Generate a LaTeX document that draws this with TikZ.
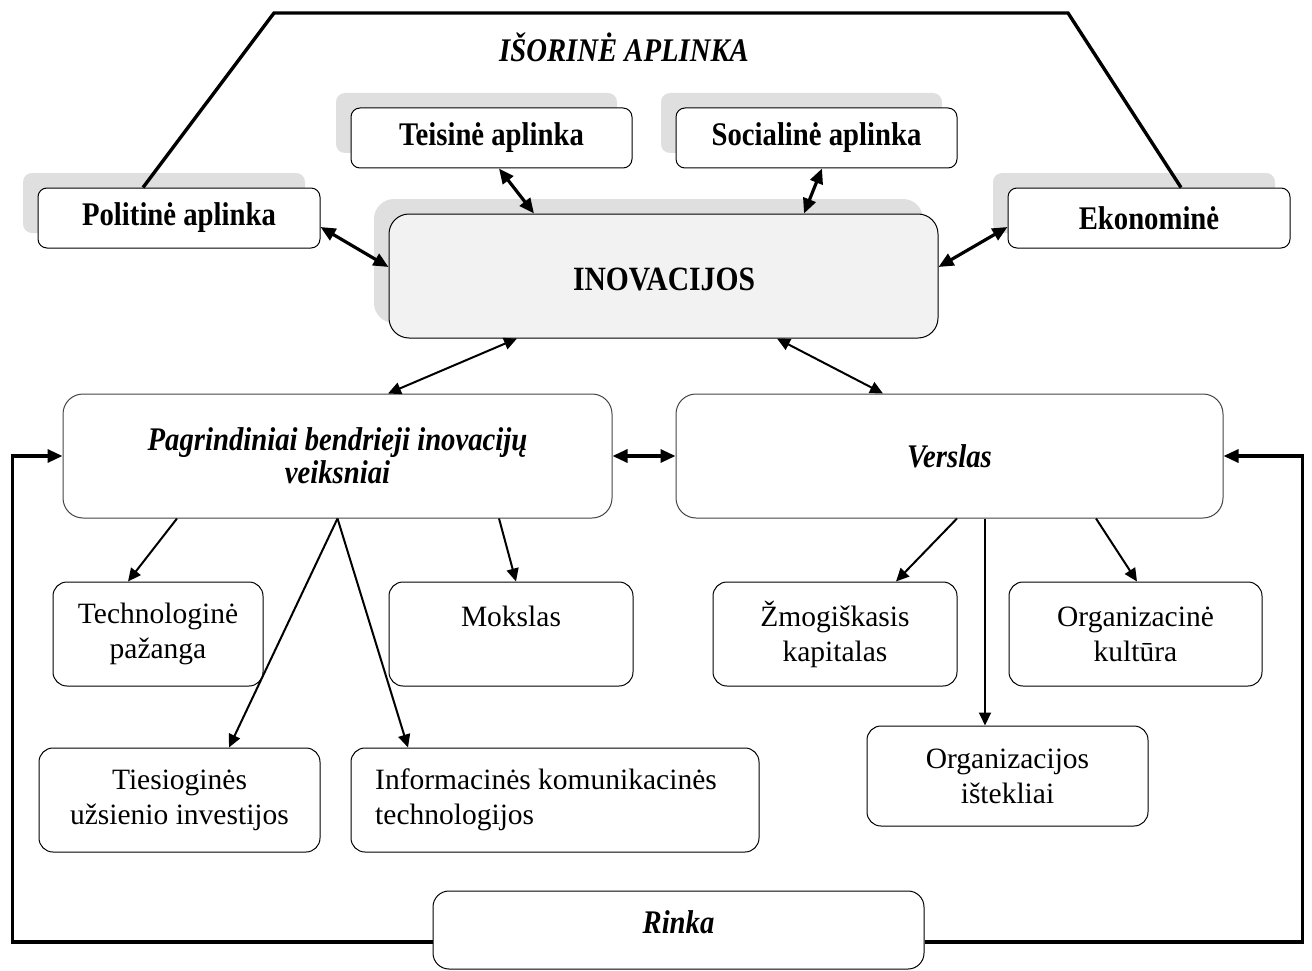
\documentclass[tikz,border=0pt]{standalone}
\usepackage{fontspec}
\setmainfont{Liberation Serif}
\newfontfamily\condfont[FakeStretch=0.87]{Liberation Serif}
\usetikzlibrary{arrows.meta,shadows,calc}
\definecolor{shadowgray}{HTML}{DFDFDF}
\definecolor{inovfill}{HTML}{F2F2F2}
\definecolor{bordergray}{HTML}{444444}
\begin{document}
\begin{tikzpicture}[x=1pt,y=-1pt,
  base/.style={draw=black,line width=1pt,fill=white,inner sep=0pt},
  envbox/.style={base,rounded corners=9pt,minimum height=60pt,
     drop shadow={shadow xshift=-15pt,shadow yshift=15pt,fill=shadowgray,opacity=1}},
  bigbox/.style={base,rounded corners=20pt,minimum height=124pt},
  subbox/.style={base,rounded corners=14pt,minimum height=104pt},
  txt/.style={inner sep=0pt,align=center,font=\fontsize{29.5}{35}\selectfont},
  btxt/.style={inner sep=0pt,align=center,font=\fontsize{33}{33}\condfont\bfseries},
  bitxt/.style={inner sep=0pt,align=center,font=\fontsize{33}{33}\condfont\bfseries\itshape},
  thick2/.style={line width=3.2pt,{Triangle[length=15pt,width=13pt]}-{Triangle[length=15pt,width=13pt]}},
  thin2/.style={line width=2pt,{Triangle[length=13pt,width=12pt]}-{Triangle[length=13pt,width=12pt]}},
  thin1/.style={line width=2pt,-{Triangle[length=13pt,width=12pt]}},
  loopline/.style={line width=3.2pt,-{Triangle[length=15pt,width=13pt]}},
  frame/.style={line width=3.4pt,line join=miter}
]
\useasboundingbox (0,0) rectangle (1312,971);

% outer frame (external environment)
\coordinate (tl) at (274,13);
\coordinate (tr) at (1068,13);

% environment boxes
\node[envbox,minimum width=282pt] (pol) at (179,218) {};
\node[envbox,minimum width=281pt] (teis) at (491.5,138) {};
\node[envbox,minimum width=281pt] (soc) at (816.5,138) {};
\node[envbox,minimum width=282pt] (eko) at (1149,218) {};
\node[bigbox,fill=inovfill,minimum width=549pt,
     drop shadow={shadow xshift=-15pt,shadow yshift=15pt,fill=shadowgray,opacity=1}] (inov) at (663.5,276) {};

\draw[frame] ([xshift=-36pt]pol.north) -- (tl) -- (tr) -- ([xshift=32pt]eko.north);

\node[bitxt] (title) at (624,47) {IŠORINĖ APLINKA};
\node[btxt] (polT) at (pol.center) {Politinė aplinka};
\node[btxt] (teisT) at (teis.center) {Teisinė aplinka};
\node[btxt] (socT) at (soc.center) {Socialinė aplinka};
\node[btxt] (ekoT) at (eko.center) {Ekonominė};
\node[btxt,font=\fontsize{34}{34}\condfont\bfseries] (inovT) at (664,279) {INOVACIJOS};

% main factor boxes
\node[bigbox,draw=bordergray,minimum width=549pt] (pag) at (337.5,456) {};
\node[bigbox,draw=bordergray,minimum width=547pt] (ver) at (949.5,456) {};
\node[bitxt] (pagT) at (pag.center) {Pagrindiniai bendrieji inovacijų\\veiksniai};
\node[bitxt] (verT) at (ver.center) {Verslas};

% sub boxes
\node[subbox,minimum width=210pt] (tech) at (158,634) {};
\node[subbox,minimum width=244pt] (moks) at (511,634) {};
\node[subbox,minimum width=281pt] (ties) at (179.5,800) {};
\node[subbox,minimum width=408pt] (info) at (555,800) {};
\node[subbox,minimum width=244pt] (zmog) at (835,634) {};
\node[subbox,minimum width=253pt] (orgk) at (1135.5,634) {};
\node[subbox,minimum width=281pt,minimum height=100pt] (orgi) at (1007.5,776) {};
\node[base,rounded corners=16pt,minimum width=491pt,minimum height=78pt] (rinka) at (678.5,930) {};

\node[txt] (techT) at (tech.center) {Technologinė\\pažanga};
\node[txt] (moksT) at (511,616) {Mokslas};
\node[txt] (tiesT) at (ties.center) {Tiesioginės\\užsienio investijos};
\node[txt,align=left,anchor=west] (infoT) at (375,800) {Informacinės komunikacinės\\technologijos};
\node[txt] (zmogT) at (zmog.center) {Žmogiškasis\\kapitalas};
\node[txt] (orgkT) at (orgk.center) {Organizacinė\\kultūra};
\node[txt] (orgiT) at (orgi.center) {Organizacijos\\ištekliai};
\node[bitxt] (rinkaT) at (678.5,922) {Rinka};

% thick double arrows to INOVACIJOS
\draw[thick2] ([yshift=-9pt]pol.east) -- ([yshift=9pt]inov.west);
\draw[thick2] ([xshift=7.5pt]teis.south) -- ([xshift=-129.5pt]inov.north);
\draw[thick2] ([xshift=5.5pt]soc.south) -- ([xshift=140.5pt]inov.north);
\draw[thick2] ([yshift=-9pt]eko.west) -- ([yshift=9pt]inov.east);

% thin double arrows
\draw[thin2] ([xshift=-146.5pt]inov.south) -- ([xshift=50.5pt]pag.north);
\draw[thin2] ([xshift=113.5pt]inov.south) -- ([xshift=-66.5pt]ver.north);
\draw[thick2] (pag.east) -- (ver.west);

% sub arrows
\draw[thin1] ([xshift=-160.5pt]pag.south) -- ([xshift=-30pt]tech.north);
\draw[thin1] (pag.south) -- ([xshift=49.5pt]ties.north);
\draw[thin1] (pag.south) -- ([xshift=-147pt]info.north);
\draw[thin1] ([xshift=161.5pt]pag.south) -- ([xshift=5pt]moks.north);
\draw[thin1] ([xshift=7.5pt]ver.south) -- ([xshift=61pt]zmog.north);
\draw[thin1] ([xshift=35.5pt]ver.south) -- ([xshift=-22.5pt]orgi.north);
\draw[thin1] ([xshift=146.5pt]ver.south) -- ([xshift=1.5pt]orgk.north);

% market loops
\draw[loopline] ([yshift=-12pt]rinka.west) -| ([xshift=-50pt]pag.west) -- (pag.west);
\draw[loopline] ([yshift=-12pt]rinka.east) -| ([xshift=79pt]ver.east) -- (ver.east);
\end{tikzpicture}
\end{document}
